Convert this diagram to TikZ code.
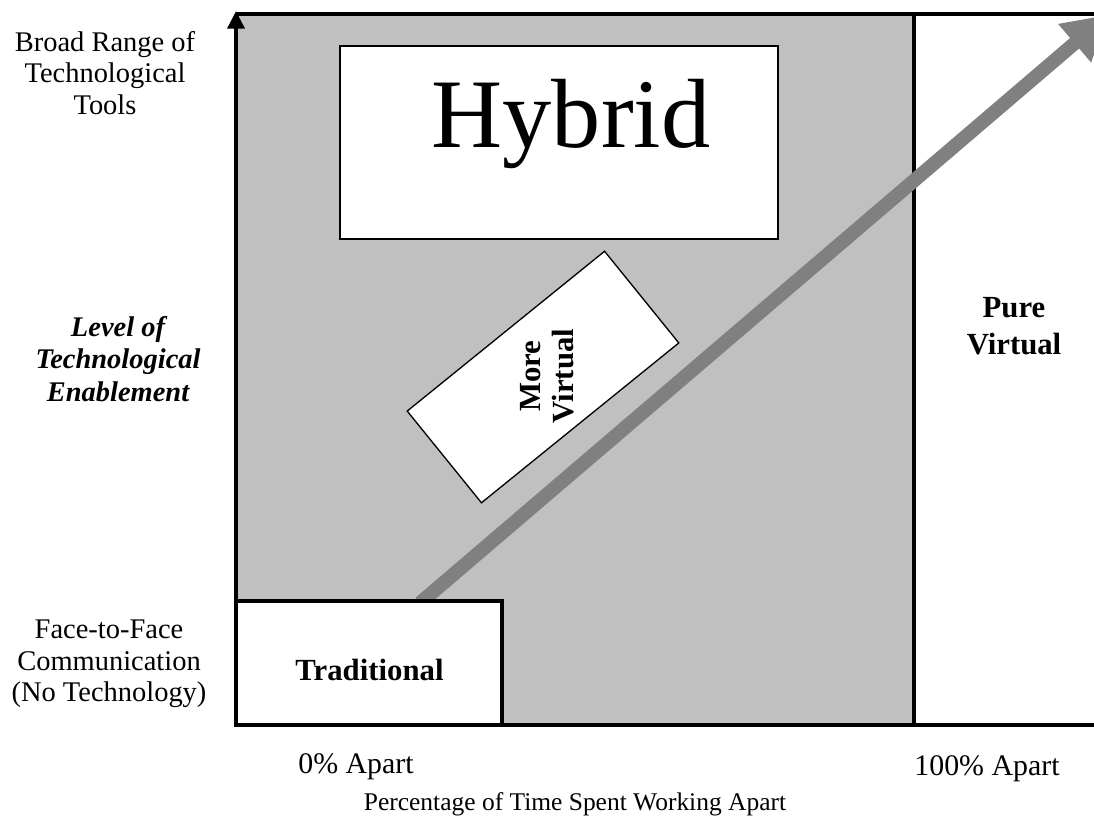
\documentclass[tikz,border=0pt]{standalone}
\usepackage{fontspec}
\setmainfont{Liberation Serif}
\usetikzlibrary{arrows.meta,positioning,calc}
\definecolor{hyshade}{HTML}{C0C0C0}
\definecolor{hyarrow}{HTML}{808080}

\begin{document}
\begin{tikzpicture}[
  x=0.02cm, y=-0.02cm,
  edgeline/.style={line width=2.3pt},
  hybox/.style={draw,fill=white,line width=1.1pt,minimum width=8.76cm,minimum height=3.86cm,inner sep=0pt},
  tradbox/.style={draw,fill=white,line width=2.3pt,minimum width=5.32cm,minimum height=2.48cm,inner sep=0pt},
  tiltbox/.style={draw,fill=white,line width=0.75pt,minimum width=5.08cm,minimum height=2.36cm,
                  inner sep=0pt,rotate=39},
  axlabel/.style={align=center,font=\fontsize{16.2}{18}\selectfont,inner sep=0pt},
  zonelabel/.style={align=center,font=\bfseries\fontsize{17.5}{21}\selectfont,inner sep=0pt},
  ticklabel/.style={anchor=base,font=\fontsize{17}{20}\selectfont,inner sep=0pt},
  trend/.style={hyarrow,line width=7.9pt,-{Triangle[width=27pt,length=25pt]}},
  vaxis/.style={line width=2.3pt,-{Triangle[width=9.5pt,length=10pt]}}
]
\useasboundingbox (0,0) rectangle (1094,816);

\fill[hyshade] (236,14) rectangle (914,725);
\draw[edgeline] (236,14) -- (1094,14);
\draw[edgeline] (236,725) -- (1094,725);
\draw[edgeline] (914,14) -- (914,725);

\node[hybox] (hybrid) at (559,142.5) {};
\node[tiltbox] (morevirt) at (543,377) {};

\coordinate (trendtail) at (420,603);
\coordinate (trendtip) at (1108,14.7);
\draw[trend] (trendtail) -- (trendtip);

\node[tradbox] (trad) at (369,663) {};

\coordinate (axbot) at (236,727);
\coordinate (axtop) at (236,11);
\draw[vaxis] (axbot) -- (axtop);

\node[anchor=base,inner sep=0pt,font=\fontsize{56}{60}\selectfont] (hybridtxt) at (571,147) {Hybrid};
\node[rotate=90,align=center,inner sep=0pt,font=\bfseries\fontsize{17.5}{18.5}\selectfont]
  (morevirttxt) at (547,376) {More\\Virtual};
\node[anchor=base,inner sep=0pt,font=\bfseries\fontsize{17.5}{21}\selectfont] (tradtxt) at (369.5,680) {Traditional};
\node[zonelabel] (purevirt) at (1014,326.5) {Pure\\Virtual};

\node[axlabel] (broad) at (105,73) {Broad Range of\\Technological\\Tools};
\node[axlabel,font=\bfseries\itshape\fontsize{16.2}{18.4}\selectfont] (level) at (118,359)
  {Level of\\Technological\\Enablement};
\node[axlabel] (facetoface) at (109,664) {Face-to-Face\\Communication\\(No Technology)};

\node[ticklabel] (zeroapart) at (356,773) {0\% Apart};
\node[ticklabel] (fullapart) at (987,775) {100\% Apart};
\node[anchor=base,inner sep=0pt,font=\fontsize{14.5}{17}\selectfont] (timeapart) at (575,810)
  {Percentage of Time Spent Working Apart};
\end{tikzpicture}
\end{document}
